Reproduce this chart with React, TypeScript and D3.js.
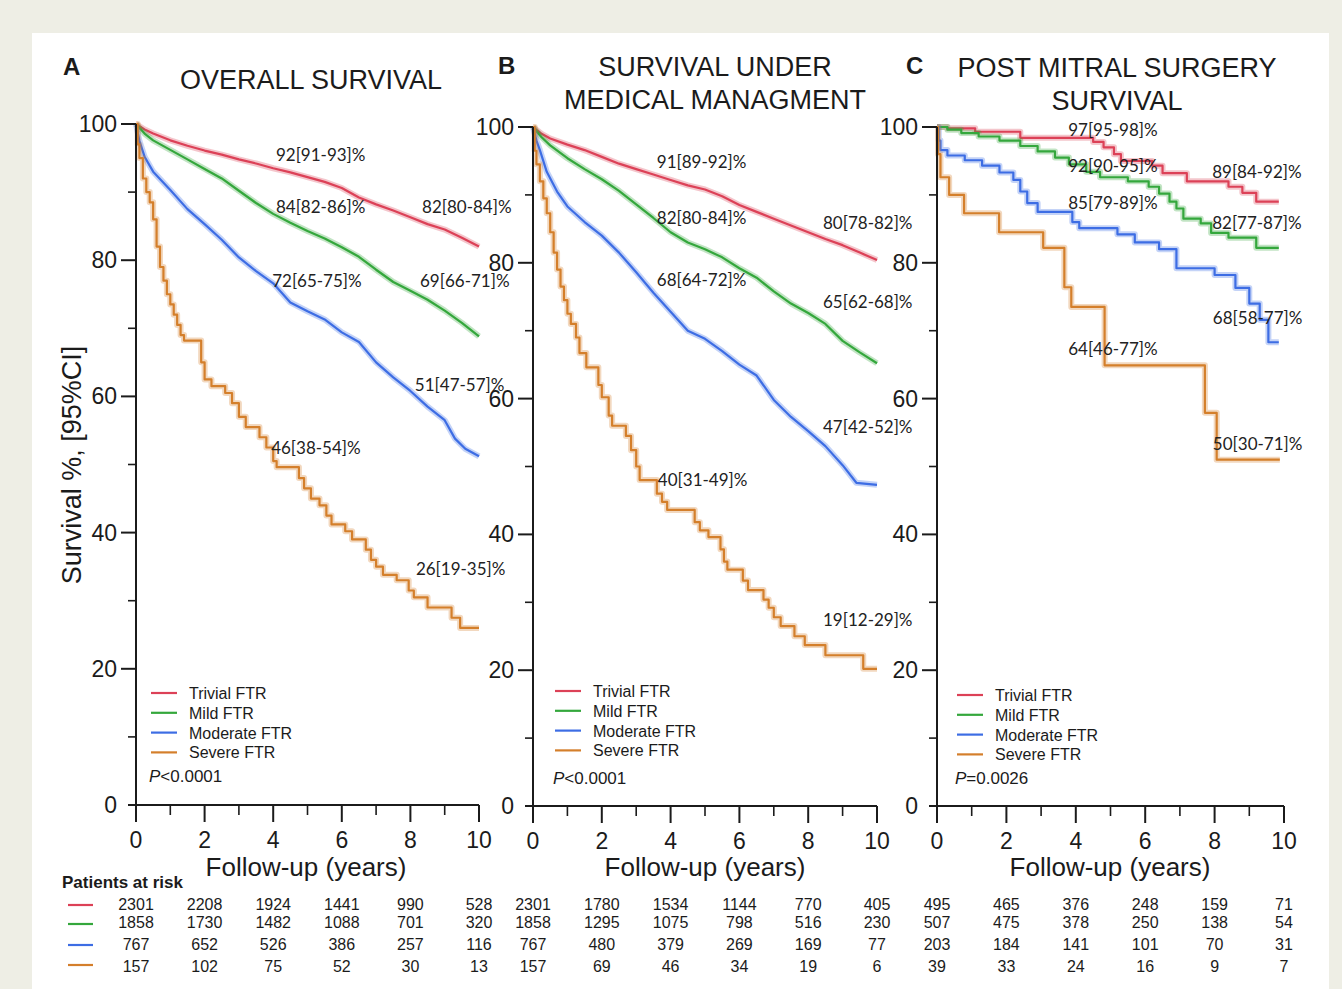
import React from "react";
import * as d3 from "d3";

// groups and colours shared by the three panels
const groups = ["Trivial FTR", "Mild FTR", "Moderate FTR", "Severe FTR"];
const groupColors = ["#dc4157", "#34a73c", "#3d6de4", "#d47f2b"];
const yearTicks = [0, 2, 4, 6, 8, 10];
const yearMinor = [1, 3, 5, 7, 9];
const survTicks = [0, 20, 40, 60, 80, 100];
const survMinor = [10, 30, 50, 70, 90];

// A - overall survival, [years, %]
const overallTrivial = [[0, 100], [0.25, 99.2], [0.5, 98.6], [1, 97.6], [1.5, 96.8], [2, 96.1], [2.5, 95.5], [3, 94.8], [3.5, 94.2], [4, 93.5], [4.5, 92.9], [5, 92.2], [5.5, 91.5], [6, 90.6], [6.5, 89.2], [7, 88.2], [7.5, 87.3], [8, 86.3], [8.5, 85.3], [9, 84.5], [9.5, 83.3], [10, 82]];
const overallMild = [[0, 100], [0.25, 98.6], [0.5, 97.6], [1, 96.2], [1.5, 94.8], [2, 93.4], [2.5, 92], [3, 90.2], [3.5, 88.4], [4, 86.8], [4.5, 85.5], [5, 84.3], [5.5, 83.2], [6, 81.9], [6.5, 80.5], [7, 78.6], [7.5, 76.8], [8, 75.5], [8.5, 74.2], [9, 72.6], [9.5, 70.8], [10, 68.8]];
const overallModerate = [[0, 100], [0.1, 97.5], [0.25, 95.2], [0.5, 93], [1, 90.3], [1.5, 87.5], [2, 85.3], [2.5, 83], [3, 80.4], [3.5, 78.4], [4, 76.6], [4.5, 73.8], [5, 72.5], [5.5, 71.3], [6, 69.4], [6.5, 68], [7, 65], [7.5, 62.8], [8, 60.8], [8.5, 58.5], [9, 56.5], [9.3, 53.8], [9.6, 52.3], [10, 51.2]];
const overallSevere = [[0, 100], [0.05, 97], [0.1, 95], [0.2, 92], [0.3, 90], [0.4, 88.5], [0.5, 86], [0.6, 82], [0.7, 79], [0.8, 77], [0.9, 75], [1.0, 73.5], [1.1, 72], [1.2, 70.5], [1.3, 69], [1.4, 68.2], [1.9, 65], [2.0, 62.5], [2.2, 61.5], [2.6, 60.5], [2.8, 59], [3.0, 57], [3.2, 55.5], [3.6, 54], [3.8, 52.5], [4.0, 50.5], [4.1, 49.6], [4.75, 48], [4.9, 46.5], [5.1, 45], [5.35, 44], [5.55, 42.5], [5.7, 41.2], [6.1, 40.2], [6.3, 39], [6.7, 37.5], [6.85, 36], [7.0, 35], [7.2, 33.8], [7.6, 33], [7.95, 31.5], [8.1, 30.5], [8.5, 29], [9.2, 27.5], [9.45, 26], [10, 26]];

// B - survival under medical management
const medicalTrivial = [[0, 100], [0.25, 99], [0.5, 98.3], [1, 97.4], [1.5, 96.6], [2, 95.6], [2.5, 94.6], [3, 93.8], [3.5, 93], [4, 92.2], [4.5, 91.4], [5, 90.8], [5.5, 89.8], [6, 88.5], [6.5, 87.5], [7, 86.5], [7.5, 85.5], [8, 84.5], [8.5, 83.5], [9, 82.6], [9.5, 81.5], [10, 80.4]];
const medicalMild = [[0, 100], [0.25, 98.5], [0.5, 97.3], [1, 95.4], [1.5, 93.8], [2, 92.3], [2.5, 90.6], [3, 88.6], [3.5, 86.6], [4, 84.5], [4.5, 83], [5, 82], [5.5, 80.8], [6, 79.2], [6.5, 77.8], [7, 75.8], [7.5, 74], [8, 72.6], [8.5, 71], [9, 68.5], [9.5, 66.8], [10, 65.2]];
const medicalModerate = [[0, 100], [0.1, 98], [0.2, 96.6], [0.4, 93.4], [0.7, 90.5], [1, 88.3], [1.5, 86], [2, 84], [2.5, 81.5], [3, 78.6], [3.5, 75.6], [4, 72.8], [4.5, 70], [5, 68.8], [5.5, 67], [6, 65], [6.5, 63.4], [7, 59.8], [7.5, 57.3], [8, 55.2], [8.5, 53], [9, 50.2], [9.4, 47.6], [10, 47.3]];
const medicalSevere = [[0, 100], [0.05, 96.5], [0.1, 94.5], [0.2, 92], [0.3, 89.5], [0.4, 87.3], [0.5, 84.5], [0.6, 81.5], [0.7, 79], [0.8, 76.5], [0.9, 74.5], [1.0, 72.5], [1.1, 71], [1.25, 69], [1.35, 66.7], [1.55, 64.6], [1.9, 62], [2.0, 60.2], [2.2, 57.5], [2.3, 56], [2.7, 54.5], [2.85, 52.4], [3.0, 50], [3.1, 48], [3.6, 46], [3.75, 44.8], [3.9, 43.6], [4.7, 41.8], [4.85, 40.6], [5.1, 39.6], [5.45, 37.8], [5.55, 36], [5.65, 34.8], [6.1, 33.2], [6.25, 31.8], [6.7, 30.4], [6.85, 29.2], [7.0, 27.8], [7.2, 26.5], [7.6, 25], [7.9, 23.7], [8.5, 22.2], [9.6, 20.2], [10, 20.2]];

// C - post mitral surgery survival
const surgeryTrivial = [[0, 100], [0.3, 99.8], [1.1, 99.3], [2.4, 98.4], [4.5, 97.8], [4.8, 97], [5.1, 96], [5.3, 95], [6.2, 94.3], [6.5, 93.2], [7.2, 92], [8.4, 91.2], [8.8, 90.3], [9.2, 89], [9.85, 89]];
const surgeryMild = [[0, 100], [0.3, 99.6], [0.7, 99.1], [1.2, 98.6], [1.8, 98], [2.4, 97.2], [2.9, 96.4], [3.4, 95.5], [3.8, 94.5], [4.3, 93.4], [4.7, 92.6], [5.5, 92], [6.1, 91.2], [6.4, 90.2], [6.7, 89], [6.9, 88], [7.1, 86.5], [7.6, 85.8], [7.9, 84.4], [8.4, 83.7], [9.2, 82.2], [9.85, 82.2]];
const surgeryModerate = [[0, 100], [0.05, 98], [0.1, 96.6], [0.3, 95.8], [0.8, 95.1], [1.3, 94.3], [1.8, 93.3], [2.2, 92.2], [2.4, 90.5], [2.6, 88.8], [2.9, 87.5], [3.9, 86], [4.1, 85.1], [5.2, 84.2], [5.7, 83], [6.4, 82], [6.9, 79.2], [8.0, 78.2], [8.6, 76.3], [9.0, 74], [9.3, 71.6], [9.55, 68.3], [9.85, 68.3]];
const surgerySevere = [[0, 100], [0.03, 96], [0.1, 92.6], [0.35, 90], [0.78, 87.3], [1.79, 84.5], [3.06, 82.2], [3.67, 76.4], [3.87, 73.5], [4.83, 64.9], [7.72, 57.9], [8.06, 51], [9.88, 51]];

// survival estimates printed on the curves: [text, years, %]
const overallLabels = [["92[91-93]%", 4.08, 95.4], ["84[82-86]%", 4.08, 87.8], ["82[80-84]%", 8.34, 87.8], ["72[65-75]%", 3.97, 76.9], ["69[66-71]%", 8.28, 76.9], ["51[47-57]%", 8.13, 61.7], ["46[38-54]%", 3.94, 52.4], ["26[19-35]%", 8.16, 34.7]];
const medicalLabels = [["91[89-92]%", 3.6, 94.8], ["82[80-84]%", 3.6, 86.6], ["80[78-82]%", 8.43, 85.9], ["68[64-72]%", 3.6, 77.5], ["65[62-68]%", 8.43, 74.2], ["47[42-52]%", 8.43, 55.8], ["40[31-49]%", 3.63, 48], ["19[12-29]%", 8.43, 27.4]];
const surgeryLabels = [["97[95-98]%", 3.78, 99.6], ["92[90-95]%", 3.78, 94.3], ["89[84-92]%", 7.93, 93.4], ["85[79-89]%", 3.78, 88.8], ["82[77-87]%", 7.93, 85.9], ["68[58-77]%", 7.95, 71.9], ["64[46-77]%", 3.78, 67.3], ["50[30-71]%", 7.95, 53.3]];

// patients at risk at 0,2,4,6,8,10 years
const overallRisk = [[2301, 2208, 1924, 1441, 990, 528], [1858, 1730, 1482, 1088, 701, 320], [767, 652, 526, 386, 257, 116], [157, 102, 75, 52, 30, 13]];
const medicalRisk = [[2301, 1780, 1534, 1144, 770, 405], [1858, 1295, 1075, 798, 516, 230], [767, 480, 379, 269, 169, 77], [157, 69, 46, 34, 19, 6]];
const surgeryRisk = [[495, 465, 376, 248, 159, 71], [507, 475, 378, 250, 138, 54], [203, 184, 141, 101, 70, 31], [39, 33, 24, 16, 9, 7]];

const sans = "'Liberation Sans', Arial, Helvetica, sans-serif";
const labelFont = "Lato, 'Noto Sans', sans-serif";
const ink = "#1b1b1b";
const riskRowY = [910, 928, 950, 972];
const riskDashY = [905, 924, 945, 965];

const panels = [
	{
		letter: "A", letterX: 63, letterY: 75,
		title: ["OVERALL SURVIVAL"], titleX: 311, titleY: [89],
		x0: 136, x1: 479, yTop: 124, yBot: 805, axisTitleX: 306,
		legendX: 151, legendY: 693, pText: "<0.0001", pY: 782,
		series: [overallTrivial, overallMild, overallModerate, overallSevere],
		stepped: [false, false, false, true],
		labels: overallLabels, risk: overallRisk,
	},
	{
		letter: "B", letterX: 498, letterY: 74,
		title: ["SURVIVAL UNDER", "MEDICAL MANAGMENT"], titleX: 715, titleY: [76, 109],
		x0: 533, x1: 877, yTop: 127, yBot: 806, axisTitleX: 705,
		legendX: 555, legendY: 691, pText: "<0.0001", pY: 784,
		series: [medicalTrivial, medicalMild, medicalModerate, medicalSevere],
		stepped: [false, false, false, true],
		labels: medicalLabels, risk: medicalRisk,
	},
	{
		letter: "C", letterX: 906, letterY: 74,
		title: ["POST MITRAL SURGERY", "SURVIVAL"], titleX: 1117, titleY: [77, 110],
		x0: 937, x1: 1284, yTop: 127, yBot: 806, axisTitleX: 1110,
		legendX: 957, legendY: 695, pText: "=0.0026", pY: 784,
		series: [surgeryTrivial, surgeryMild, surgeryModerate, surgerySevere],
		stepped: [true, true, true, true],
		labels: surgeryLabels, risk: surgeryRisk,
	},
];

const Panel = ({ p }) => {
	const x = d3.scaleLinear().domain([0, 10]).range([p.x0, p.x1]);
	const y = d3.scaleLinear().domain([0, 100]).range([p.yBot, p.yTop]);
	const makeLine = (stepped) =>
		d3
			.line()
			.x((d) => x(d[0]))
			.y((d) => y(d[1]))
			.curve(stepped ? d3.curveStepAfter : d3.curveLinear);

	return (
		<g>
			<text x={p.letterX} y={p.letterY} fontFamily={sans} fontWeight="bold" fontSize={24} fill={ink}>
				{p.letter}
			</text>
			{p.title.map((t, i) => (
				<text key={t} x={p.titleX} y={p.titleY[i]} textAnchor="middle" fontFamily={sans} fontSize={27} fill={ink}>
					{t}
				</text>
			))}

			{/* curves: light CI band under a solid line */}
			{p.series.map((s, i) => {
				const d = makeLine(p.stepped[i])(s);
				return (
					<g key={i}>
						<path d={d} fill="none" stroke={groupColors[i]} strokeWidth={6} opacity={0.3} strokeLinejoin="round" />
						<path d={d} fill="none" stroke={groupColors[i]} strokeWidth={2.2} strokeLinejoin="round" />
					</g>
				);
			})}

			{/* axes */}
			<path d={`M${p.x0},${p.yTop}V${p.yBot + 17}`} stroke={ink} strokeWidth={2} />
			<path d={`M${p.x0 - 8},${p.yBot}H${p.x1}`} stroke={ink} strokeWidth={2} />
			{survTicks.filter((v) => v > 0).map((v) => (
				<path key={v} d={`M${p.x0 - 15},${y(v)}H${p.x0}`} stroke={ink} strokeWidth={2} />
			))}
			{survMinor.map((v) => (
				<path key={v} d={`M${p.x0 - 8},${y(v)}H${p.x0}`} stroke={ink} strokeWidth={1.6} />
			))}
			{survTicks.map((v) => (
				<text key={v} x={p.x0 - 19} y={y(v) + 8} textAnchor="end" fontFamily={sans} fontSize={23} fill={ink}>
					{v}
				</text>
			))}
			{yearTicks.filter((t) => t > 0).map((t) => (
				<path key={t} d={`M${x(t)},${p.yBot}V${p.yBot + 17}`} stroke={ink} strokeWidth={2} />
			))}
			{yearMinor.map((t) => (
				<path key={t} d={`M${x(t)},${p.yBot}V${p.yBot + 10}`} stroke={ink} strokeWidth={1.6} />
			))}
			{yearTicks.map((t) => (
				<text key={t} x={x(t)} y={p.yBot + 43} textAnchor="middle" fontFamily={sans} fontSize={23} fill={ink}>
					{t}
				</text>
			))}
			<text x={p.axisTitleX} y={876} textAnchor="middle" fontFamily={sans} fontSize={26} fill={ink}>
				Follow-up (years)
			</text>

			{/* estimates on the curves */}
			{p.labels.map(([t, yr, v]) => (
				<text key={t + yr} x={x(yr)} y={y(v) + 6} fontFamily={labelFont} fontSize={17} fill="#222">
					{t}
				</text>
			))}

			{/* legend */}
			{groups.map((g, i) => (
				<g key={g}>
					<path d={`M${p.legendX},${p.legendY + i * 19.8}h26`} stroke={groupColors[i]} strokeWidth={2.2} />
					<text x={p.legendX + 38} y={p.legendY + i * 19.8 + 6} fontFamily={sans} fontSize={16} fill={ink}>
						{g}
					</text>
				</g>
			))}
			<text x={p.legendX - 2} y={p.pY} fontFamily={sans} fontSize={17} fill={ink}>
				<tspan fontStyle="italic">P</tspan>
				{p.pText}
			</text>

			{/* patients at risk */}
			{p.risk.map((row, r) =>
				row.map((n, c) => (
					<text key={`${r}-${c}`} x={x(yearTicks[c])} y={riskRowY[r]} textAnchor="middle" fontFamily={sans} fontSize={16} fill={ink}>
						{n}
					</text>
				))
			)}
		</g>
	);
};

const App = () => {
	const width = 1342;
	const height = 989;
	return (
		<div style={{ position: "absolute", left: 0, top: 0 }}>
			<svg width={width} height={height} style={{ display: "block" }}>
				<rect x={0} y={0} width={width} height={height} fill="#eeeee5" />
				<rect x={32} y={33} width={1297} height={height - 33} fill="#ffffff" />
				<text
					transform={`translate(${81},${465}) rotate(-90)`}
					textAnchor="middle"
					fontFamily={sans}
					fontSize={27}
					fill={ink}
				>
					Survival %, [95%CI]
				</text>
				{panels.map((p) => (
					<Panel key={p.letter} p={p} />
				))}
				<text x={62} y={888} fontFamily={sans} fontWeight="bold" fontSize={17} fill={ink}>
					Patients at risk
				</text>
				{groups.map((g, i) => (
					<path key={g} d={`M${68},${riskDashY[i]}h25`} stroke={groupColors[i]} strokeWidth={2.2} />
				))}
			</svg>
		</div>
	);
};

export default App;
